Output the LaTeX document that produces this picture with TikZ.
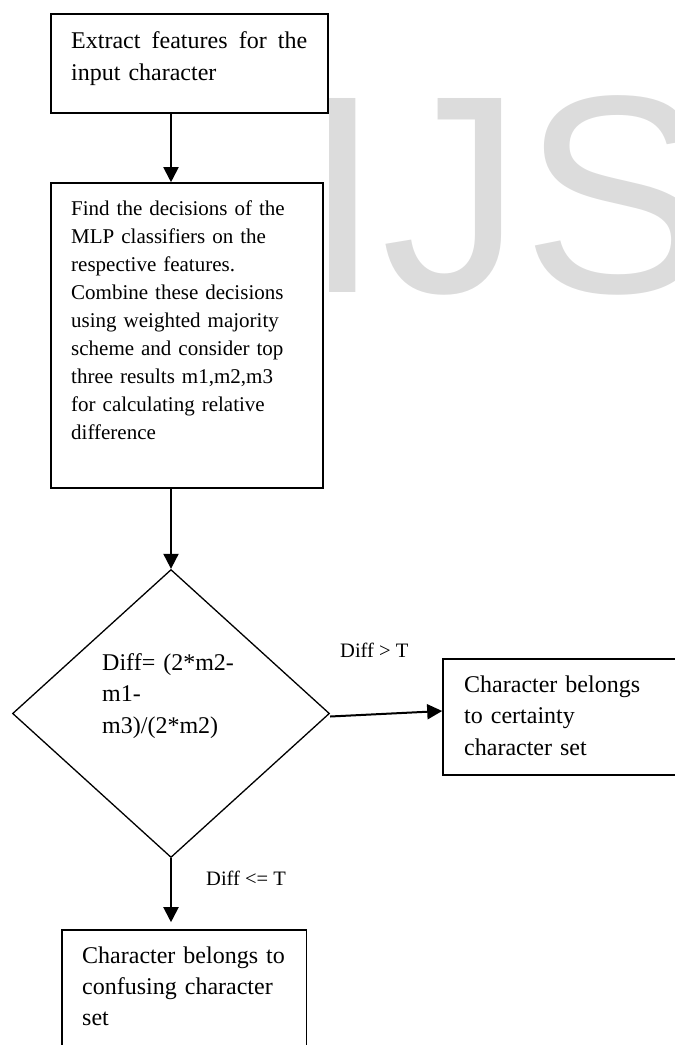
\documentclass[tikz,border=0pt]{standalone}
\usepackage{fontspec}
\setmainfont{Liberation Serif}
\newfontfamily\wmfont{Liberation Sans}
\usetikzlibrary{arrows.meta,shapes.geometric}
\definecolor{wmgray}{RGB}{220,220,220}
\begin{document}
\begin{tikzpicture}[x=1pt,y=-1pt,
  box/.style={draw, line width=1.6pt, rectangle, inner sep=0pt, fill=white},
  txt/.style={anchor=base west, inner sep=0pt, align=left},
  arr/.style={line width=2pt, -{Triangle[width=15pt,length=15pt]}},
  lbl/.style={anchor=base west, inner sep=0pt, font=\fontsize{20.5}{24}\selectfont}]
\useasboundingbox (0,0) rectangle (675,1045);
\begin{scope}
\clip (0,0) rectangle (675,1045);
% watermark
\node[anchor=base west, inner sep=0pt, text=wmgray, font=\wmfont\fontsize{282}{282}\selectfont] (wm) at (303,292) {IJS};
% boxes
\node[box, minimum width=277pt, minimum height=99pt] (b1) at (189.5,63.5) {};
\node[box, minimum width=272pt, minimum height=305pt] (b2) at (187,335.5) {};
\node[draw, diamond, line width=1.3pt, inner sep=0pt, minimum width=317pt, minimum height=288pt] (dia) at (171,713.5) {};
\node[box, minimum width=237pt, minimum height=116pt] (b3) at (561.5,717) {};
\node[box, minimum width=244.5pt, minimum height=125pt] (b4) at (184.25,992.5) {};
% texts
\node[txt, text width=240pt, font=\fontsize{24}{32}\selectfont] (t1) at (71,48)
  {\hbox to 236pt{Extract\hfill features\hfill for\hfill the}\\input character};
\node[txt, text width=250pt, font=\fontsize{21}{28}\selectfont] (t2) at (71,215)
  {Find the decisions of the\\MLP classifiers on the\\respective features.\\Combine these decisions\\using weighted majority\\scheme and consider top\\three results m1,m2,m3\\for calculating relative\\difference};
\node[txt, text width=200pt, font=\fontsize{24}{31.5}\selectfont] (t3) at (102,670)
  {Diff= (2*m2-\\m1-\\m3)/(2*m2)};
\node[txt, text width=205pt, font=\fontsize{24}{31.5}\selectfont] (t4) at (464,692)
  {Character belongs\\to certainty\\character set};
\node[txt, text width=222pt, font=\fontsize{24}{31}\selectfont] (t5) at (82,963)
  {Character belongs to\\confusing character\\set};
% connectors
\draw[arr] (b1.south -| dia.north) -- (b2.north -| dia.north);
\draw[arr] (b2.south -| dia.north) -- (dia.north);
\draw[arr] ([yshift=-3pt]dia.east) -- ([yshift=6pt]b3.west);
\draw[arr, shorten >=7pt] (dia.south) -- (dia.south |- b4.north);
% labels
\node[lbl] (l1) at (340,657) {Diff > T};
\node[lbl] (l2) at (206,885) {Diff <= T};
\end{scope}
\end{tikzpicture}
\end{document}
